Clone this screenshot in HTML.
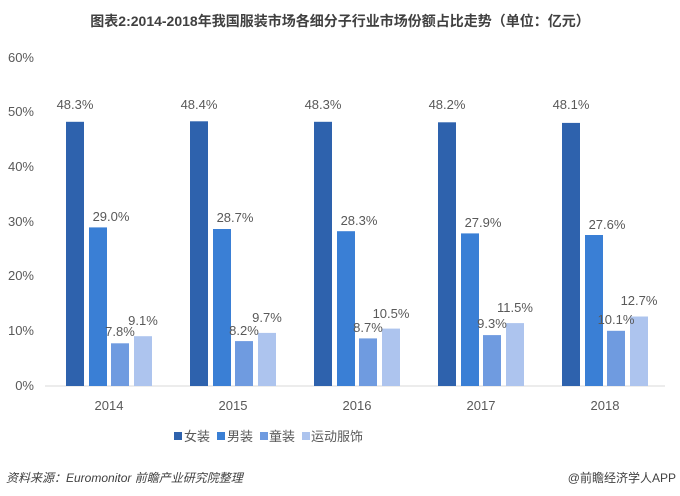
<!DOCTYPE html><html><head><meta charset="utf-8"><style>body{margin:0;background:#fff}svg{display:block}</style></head><body>
<svg width="680" height="496" xmlns="http://www.w3.org/2000/svg" font-family="Liberation Sans, Noto Sans CJK SC, sans-serif">
<text x="340" y="26" text-anchor="middle" font-size="14" font-weight="bold" fill="#404040">图表2:2014-2018年我国服装市场各细分子行业市场份额占比走势（单位：亿元）</text>
<g font-size="13" fill="#595959" text-anchor="end">
<text x="34" y="390">0%</text><text x="34" y="335">10%</text><text x="34" y="280">20%</text><text x="34" y="226">30%</text><text x="34" y="171">40%</text><text x="34" y="116">50%</text><text x="34" y="62">60%</text></g>
<line x1="45" y1="386" x2="665" y2="386" stroke="#d9d9d9"/>
<g>
<g fill="#2e62ad"><rect x="66" y="121.8" width="18" height="264.2"/><rect x="190" y="121.3" width="18" height="264.7"/><rect x="314" y="121.8" width="18" height="264.2"/><rect x="438" y="122.3" width="18" height="263.7"/><rect x="562" y="122.9" width="18" height="263.1"/></g>
<g fill="#3a7fd5"><rect x="89" y="227.4" width="18" height="158.6"/><rect x="213" y="229" width="18" height="157"/><rect x="337" y="231.2" width="18" height="154.8"/><rect x="461" y="233.4" width="18" height="152.6"/><rect x="585" y="235" width="18" height="151"/></g>
<g fill="#6f9be0"><rect x="111" y="343.3" width="18" height="42.7"/><rect x="235" y="341.1" width="18" height="44.9"/><rect x="359" y="338.4" width="18" height="47.6"/><rect x="483" y="335.1" width="18" height="50.9"/><rect x="607" y="330.8" width="18" height="55.2"/></g>
<g fill="#adc4ee"><rect x="134" y="336.2" width="18" height="49.8"/><rect x="258" y="332.9" width="18" height="53.1"/><rect x="382" y="328.6" width="18" height="57.4"/><rect x="506" y="323.1" width="18" height="62.9"/><rect x="630" y="316.5" width="18" height="69.5"/></g>
</g>
<g font-size="13" fill="#595959" text-anchor="middle">
<text x="75" y="109">48.3%</text><text x="199" y="109">48.4%</text><text x="323" y="109">48.3%</text><text x="447" y="109">48.2%</text><text x="571" y="109">48.1%</text>
<text x="111" y="221">29.0%</text><text x="235" y="222">28.7%</text><text x="359" y="225">28.3%</text><text x="483" y="227">27.9%</text><text x="607" y="229">27.6%</text>
<text x="120" y="336">7.8%</text><text x="244" y="335">8.2%</text><text x="368" y="332">8.7%</text><text x="492" y="328">9.3%</text><text x="616" y="324">10.1%</text>
<text x="143" y="325">9.1%</text><text x="267" y="322">9.7%</text><text x="391" y="318">10.5%</text><text x="515" y="312">11.5%</text><text x="639" y="305">12.7%</text>
<text x="109" y="410">2014</text><text x="233" y="410">2015</text><text x="357" y="410">2016</text><text x="481" y="410">2017</text><text x="605" y="410">2018</text>
</g>
<g font-size="13" fill="#595959">
<rect x="174" y="432" width="8" height="8" fill="#2e62ad"/><text x="184" y="441">女装</text>
<rect x="217" y="432" width="8" height="8" fill="#3a7fd5"/><text x="227" y="441">男装</text>
<rect x="260" y="432" width="8" height="8" fill="#6f9be0"/><text x="269" y="441">童装</text>
<rect x="302" y="432" width="8" height="8" fill="#adc4ee"/><text x="311" y="441">运动服饰</text>
</g>
<text x="6" y="482" font-size="12" font-style="italic" fill="#404040">资料来源：Euromonitor  前瞻产业研究院整理</text>
<text x="676" y="482" font-size="12" fill="#404040" text-anchor="end">@前瞻经济学人APP</text>
</svg></body></html>
